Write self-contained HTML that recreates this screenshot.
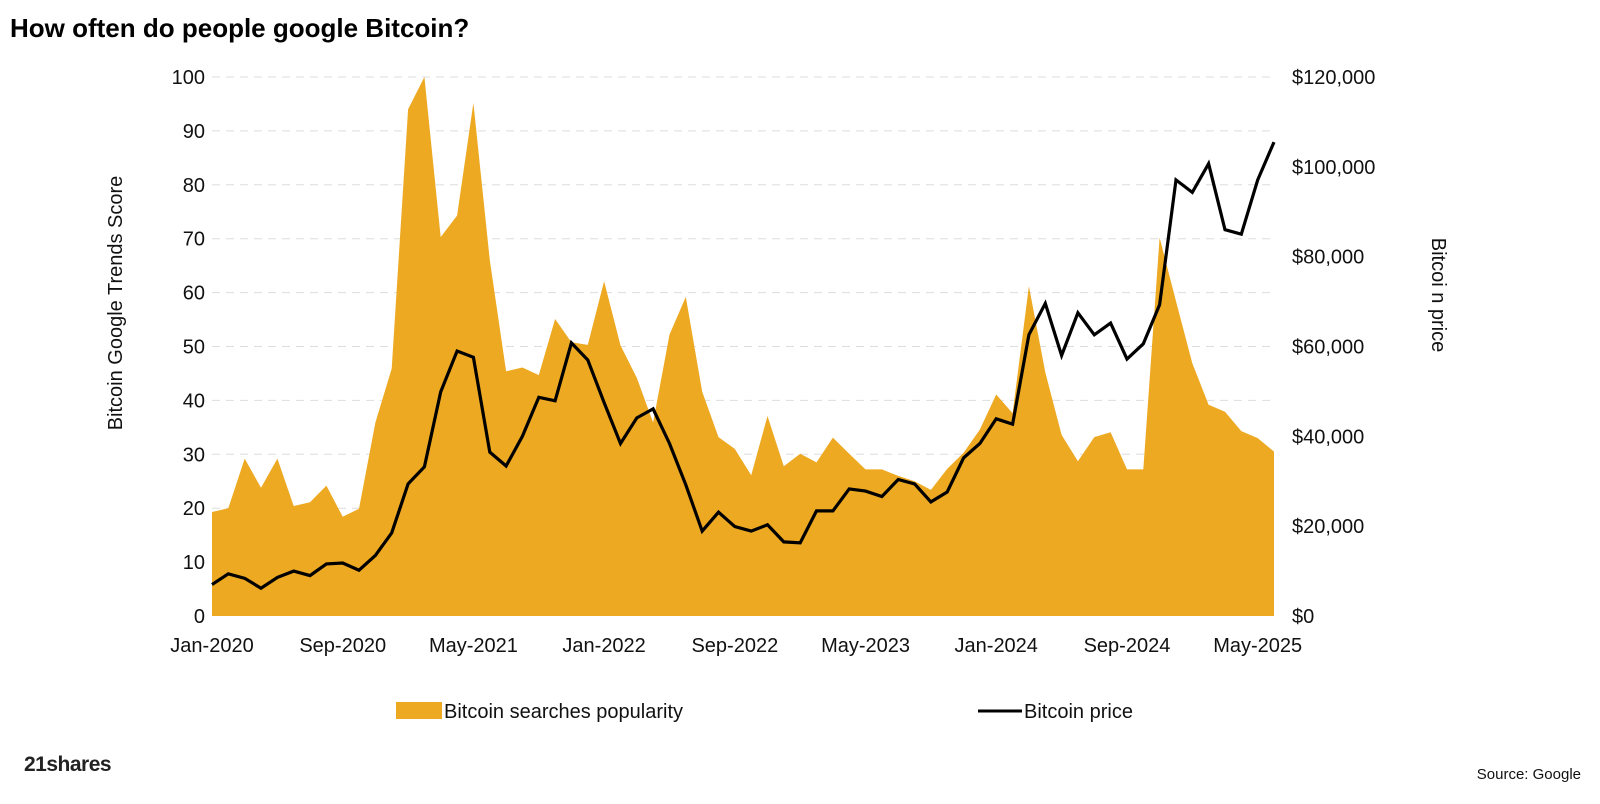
<!DOCTYPE html>
<html><head><meta charset="utf-8">
<style>
body{margin:0;background:#fff;width:1600px;height:804px;overflow:hidden;font-family:"Liberation Sans",sans-serif}
svg{position:absolute;left:0;top:0}
</style></head>
<body>
<svg width="1600" height="804">
<text x="10" y="37" font-size="26" font-weight="bold" fill="#000">How often do people google Bitcoin?</text>
<g id="grid"></g>
<g id="area"></g>
<g id="line"></g>
<g id="axes" font-size="20" fill="#111"></g>
<text transform="translate(122,303) rotate(-90)" text-anchor="middle" font-size="20" fill="#111">Bitcoin Google Trends Score</text>
<text transform="translate(1432,295) rotate(90)" text-anchor="middle" font-size="20" fill="#111">Bitcoi n price</text>
<rect x="396" y="702" width="46" height="17" fill="#EDA921"/>
<text x="444" y="718" font-size="20" fill="#111">Bitcoin searches popularity</text>
<line x1="978" y1="711" x2="1022" y2="711" stroke="#000" stroke-width="3"/>
<text x="1024" y="718" font-size="20" fill="#111">Bitcoin price</text>
<text x="24" y="771" font-size="21" font-weight="bold" fill="#222" letter-spacing="-0.5">21shares</text>
<text x="1581" y="779" text-anchor="end" font-size="15" fill="#111">Source: Google</text>
</svg>
<script>
const searches=[19.3,20.0,29.2,23.8,29.2,20.4,21.1,24.2,18.4,19.9,35.9,45.9,94,100,70.3,74.3,95.2,66,45.4,46.1,44.7,55.1,50.8,50.3,62.1,50.2,44.2,35.9,52.2,59.2,41.6,33.2,31.0,26.1,37.1,27.8,30.1,28.5,33.1,30.1,27.2,27.2,26,25,23.4,27.3,30.3,34.6,41.1,37.6,61.2,45.2,33.6,28.7,33.2,34.1,27.2,27.2,70.2,58.4,46.9,39.2,37.9,34.3,33.0,30.5];
const prices=[7.0,9.4,8.4,6.2,8.6,10,9,11.6,11.8,10.2,13.5,18.5,29.4,33.2,49.9,59,57.6,36.5,33.4,40,48.7,47.9,60.8,57,47.5,38.4,44.1,46.1,38.4,29.2,18.9,23.1,19.9,18.9,20.3,16.5,16.3,23.4,23.4,28.3,27.8,26.6,30.4,29.4,25.4,27.6,35.2,38.4,43.9,42.7,62.6,69.6,58,67.5,62.6,65.2,57.2,60.6,69.3,97.1,94.3,100.7,86,85,97.1,105.5];
const xLabels=["Jan-2020","Sep-2020","May-2021","Jan-2022","Sep-2022","May-2023","Jan-2024","Sep-2024","May-2025"];
const leftTicks=[0,10,20,30,40,50,60,70,80,90,100];
const rightTicks=[0,20,40,60,80,100,120];
const NS="http://www.w3.org/2000/svg";
const x0=212,x1=1274,yB=616,yT=77;
const xs=i=>x0+(x1-x0)*i/(searches.length-1);
const yL=v=>yB-(yB-yT)*v/100;
const yR=v=>yB-(yB-yT)*v/120;
function mk(t,a,p){const e=document.createElementNS(NS,t);for(const k in a)e.setAttribute(k,a[k]);p.appendChild(e);return e;}
const grid=document.getElementById('grid'),axes=document.getElementById('axes');
leftTicks.forEach(v=>{
 if(v>0){const g=mk('line',{x1:x0,x2:x1,y1:yL(v),y2:yL(v),stroke:'#ddd','stroke-width':1,'stroke-dasharray':'8,6'},grid);
 
 }
 const t=mk('text',{x:205,y:yL(v)+7,'text-anchor':'end'},axes);t.textContent=v;
 
 
});
rightTicks.forEach(v=>{
 const t=mk('text',{x:1292,y:yR(v)+7},axes);t.textContent='$'+(v===0?'0':v+',000');
 
 
});
xLabels.forEach((l,k)=>{
 const t=mk('text',{x:xs(k*8),y:652,'text-anchor':'middle'},axes);t.textContent=l;
 
 
});
let d='M'+xs(0)+','+yB;
searches.forEach((v,i)=>{d+=' L'+xs(i).toFixed(1)+','+yL(v).toFixed(1);});
d+=' L'+xs(searches.length-1)+','+yB+' Z';
const a=mk('path',{d:d,fill:'#EDA921'},document.getElementById('area'));


const pts=prices.map((v,i)=>xs(i).toFixed(1)+','+yR(v).toFixed(1)).join(' ');
const pl=mk('polyline',{points:pts,fill:'none',stroke:'#000','stroke-width':3.2,'stroke-linejoin':'miter'},document.getElementById('line'));


</script>
</body></html>
